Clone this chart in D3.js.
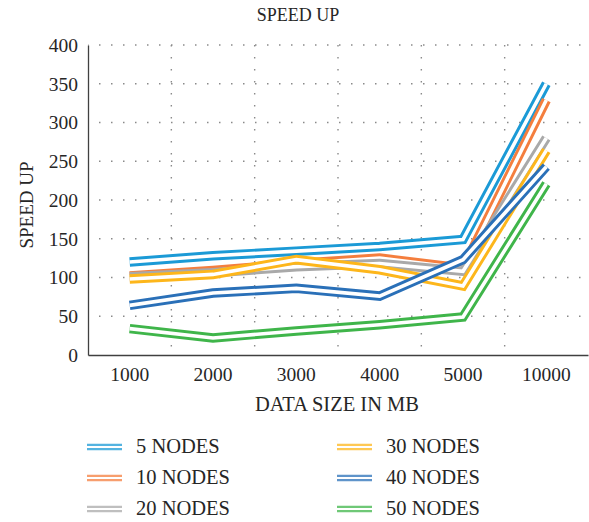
<!DOCTYPE html>
<html>
<head>
<meta charset="utf-8">
<script src="https://cdn.jsdelivr.net/npm/d3@7"></script>
<style>
    body { margin: 0; background: #fff; }
    svg text { font-family: "Liberation Serif", "Times New Roman", "DejaVu Serif", serif !important; fill: #262626; }
</style>
</head>
<body>
<div id="chart"></div>
<script>

// data
const dataSizes = ['1000', '2000', '3000', '4000', '5000', '10000'];
const seriesNames = ['5 NODES', '10 NODES', '20 NODES', '30 NODES', '40 NODES', '50 NODES'];
const nodes5 = [120, 128, 134, 140, 149, 350];
const nodes10 = [102, 109, 118, 125, 112, 329];
const nodes20 = [101, 106, 114, 118, 108, 280];
const nodes30 = [98, 104, 123, 110, 89, 264];
const nodes40 = [64, 80, 86, 76, 123, 243];
const nodes50 = [34, 22, 31, 39, 49, 221];
const yTicks = [0, 50, 100, 150, 200, 250, 300, 350, 400];
const colors = ["#1b9ad6", "#f47e3e", "#a9a9a9", "#fdb61b", "#2a70b8", "#3fb54a"];

const serif = '"Liberation Serif", "Times New Roman", "DejaVu Serif", serif';

class SpeedUpVis {

    constructor(parentElement) {
        this.parentElement = parentElement;
        this.series = [nodes5, nodes10, nodes20, nodes30, nodes40, nodes50].map((vals, i) => ({
            name: seriesNames[i],
            color: colors[i],
            values: vals.map((v, j) => ({size: dataSizes[j], value: v}))
        }));
        this.initVis();
    }

    initVis() {
        let vis = this;

        vis.margin = {top: 45, right: 1, bottom: 167, left: 88};
        vis.width = 589 - vis.margin.left - vis.margin.right;
        vis.height = 522 - vis.margin.top - vis.margin.bottom;

        vis.root = d3.select("#" + vis.parentElement).append("svg")
            .attr("width", 589)
            .attr("height", 522)
            .attr("font-family", serif);

        vis.svg = vis.root.append("g")
            .attr("transform", "translate(" + vis.margin.left + "," + vis.margin.top + ")");

        vis.x = d3.scaleBand()
            .domain(dataSizes)
            .range([0, vis.width]);

        vis.y = d3.scaleLinear()
            .domain([0, 400])
            .range([vis.height, 0]);

        // dotted grid
        vis.svg.selectAll(".hgrid")
            .data(yTicks.filter(d => d > 0))
            .enter().append("line")
            .attr("class", "hgrid")
            .attr("x1", 0)
            .attr("x2", vis.width)
            .attr("y1", d => vis.y(d))
            .attr("y2", d => vis.y(d))
            .attr("stroke", "#8a8a8a")
            .attr("stroke-width", 1.4)
            .attr("stroke-dasharray", "1.5,10.5")
            .attr("stroke-dashoffset", -11);

        vis.svg.selectAll(".vgrid")
            .data(dataSizes.slice(1))
            .enter().append("line")
            .attr("class", "vgrid")
            .attr("x1", d => vis.x(d))
            .attr("x2", d => vis.x(d))
            .attr("y1", 0)
            .attr("y2", vis.height)
            .attr("stroke", "#8a8a8a")
            .attr("stroke-width", 1.4)
            .attr("stroke-dasharray", "1.5,10.5");

        // axes
        vis.xAxis = d3.axisBottom(vis.x).tickSize(0).tickPadding(12);
        vis.yAxis = d3.axisLeft(vis.y).tickValues(yTicks).tickSize(0).tickPadding(10);

        vis.svg.append("g")
            .attr("class", "x-axis axis")
            .attr("transform", "translate(0," + vis.height + ")")
            .call(vis.xAxis);

        vis.svg.append("g")
            .attr("class", "y-axis axis")
            .call(vis.yAxis);

        vis.svg.selectAll(".axis")
            .attr("font-family", serif)
            .attr("font-size", 19.5);
        vis.svg.selectAll(".axis path").attr("stroke", "#404040").attr("stroke-width", 1.3);
        vis.svg.selectAll(".axis text").attr("fill", "#262626");

        // titles
        vis.root.append("text")
            .attr("x", 298)
            .attr("y", 21)
            .attr("text-anchor", "middle")
            .attr("font-size", 18)
            .text("SPEED UP");

        vis.root.append("text")
            .attr("transform", "rotate(-90)")
            .attr("x", -205)
            .attr("y", 33)
            .attr("text-anchor", "middle")
            .attr("font-size", 19)
            .text("SPEED UP");

        vis.root.append("text")
            .attr("x", vis.margin.left + vis.width / 2 - 1)
            .attr("y", 411)
            .attr("text-anchor", "middle")
            .attr("font-size", 20.5)
            .text("DATA SIZE IN MB");

        vis.line = d3.line()
            .x(d => vis.x(d.size) + vis.x.bandwidth() / 2)
            .y(d => vis.y(d.value));

        vis.updateVis();
    }

    updateVis() {
        let vis = this;

        // every series is a double line: wide colour stroke with a white core
        let groups = vis.svg.selectAll(".series")
            .data(vis.series)
            .enter().append("g")
            .attr("class", "series");

        groups.append("path")
            .attr("d", d => vis.line(d.values))
            .attr("fill", "none")
            .attr("stroke", d => d.color)
            .attr("stroke-width", 9.5)
            .attr("stroke-linejoin", "miter")
            .attr("stroke-linecap", "butt");

        groups.append("path")
            .attr("d", d => vis.line(d.values))
            .attr("fill", "none")
            .attr("stroke", "#fff")
            .attr("stroke-width", 3.6)
            .attr("stroke-linejoin", "miter")
            .attr("stroke-linecap", "butt");

        // legend, two columns of three
        let legend = vis.root.selectAll(".legend")
            .data(vis.series)
            .enter().append("g")
            .attr("class", "legend")
            .attr("transform", (d, i) => "translate(" + (i < 3 ? 87 : 337) + "," + (447 + (i % 3) * 31) + ")");

        legend.append("line")
            .attr("x1", 0).attr("x2", 35)
            .attr("y1", 0).attr("y2", 0)
            .attr("stroke", d => d.color)
            .attr("stroke-opacity", 0.75)
            .attr("stroke-width", 6.5);

        legend.append("line")
            .attr("x1", 0).attr("x2", 35)
            .attr("y1", 0).attr("y2", 0)
            .attr("stroke", "#fff")
            .attr("stroke-width", 2.2);

        legend.append("text")
            .attr("x", 49)
            .attr("y", 6)
            .attr("font-size", 20.5)
            .text(d => d.name);
    }
}

new SpeedUpVis("chart");
</script>
</body>
</html>
